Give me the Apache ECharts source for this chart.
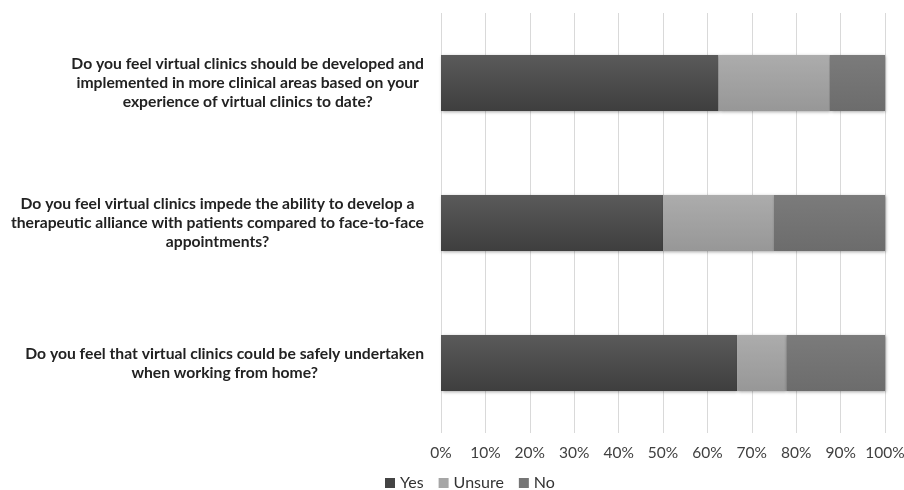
<!DOCTYPE html>
<html>
<head>
<meta charset="utf-8">
<script src="https://cdn.jsdelivr.net/npm/echarts@6/dist/echarts.min.js"></script>
<style>html,body{margin:0;padding:0;background:#fff;}#c{width:904px;height:490px;}</style>
</head>
<body>
<div id="c"></div>
<script>
const categories = [
  ["Do you feel virtual clinics should be developed and", "implemented in more clinical areas based on your", "experience of virtual clinics to date?"],
  ["Do you feel virtual clinics impede the ability to develop a", "therapeutic alliance with patients compared to face-to-face", "appointments?"],
  ["Do you feel that virtual clinics could be safely undertaken", "when working from home?"]
];
const yesValues = [62.5, 50, 66.7];
const unsureValues = [25, 25, 11.1];
const noValues = [12.5, 25, 22.2];
const tickValues = [0, 10, 20, 30, 40, 50, 60, 70, 80, 90, 100];

function grad(top, bottom) {
  return new echarts.graphic.LinearGradient(0, 0, 0, 1, [{offset: 0, color: top}, {offset: 1, color: bottom}]);
}
const shadow = {shadowBlur: 3, shadowColor: 'rgba(0,0,0,0.35)', shadowOffsetY: 1, shadowOffsetX: 1};

const chart = echarts.init(document.getElementById('c'), null, {renderer: 'canvas'});
chart.setOption({
  animation: false,
  textStyle: {fontFamily: 'Lato'},
  grid: {left: 441, right: 19, top: 13, bottom: 57, containLabel: false, outerBoundsMode: 'none'},
  legend: {
    top: 470, left: 380, itemWidth: 10, itemHeight: 10, itemGap: 15,
    icon: 'rect',
    textStyle: {fontSize: 16, color: '#333', fontFamily: 'Lato'},
    data: [
      {name: 'Yes', itemStyle: {color: '#444'}},
      {name: 'Unsure', itemStyle: {color: '#a6a6a6'}},
      {name: 'No', itemStyle: {color: '#757575'}}
    ]
  },
  xAxis: {
    type: 'value', min: 0, max: 100, interval: 10,
    axisLine: {show: false}, axisTick: {show: false},
    splitLine: {show: true, lineStyle: {color: '#d9d9d9', width: 1}},
    axisLabel: {
      formatter: v => tickValues.includes(v) ? v + '%' : '',
      fontSize: 15.5, color: '#404040', margin: 12, fontFamily: 'Lato'
    }
  },
  yAxis: {
    type: 'category', inverse: true,
    data: categories.map((c, i) => 'q' + i),
    axisLine: {show: false}, axisTick: {show: false},
    axisLabel: {
      margin: 17, align: 'right',
      formatter: (v, i) => categories[i].map(l => '{c|' + l + '}').join('\n'),
      rich: {c: {align: 'center', fontSize: 15.7, fontWeight: 'bold', color: '#222', fontFamily: 'Lato', lineHeight: 19}}
    }
  },
  series: [
    {name: 'Yes', type: 'bar', stack: 's', barWidth: 56, data: yesValues,
     itemStyle: Object.assign({color: grad('#5a5a5a', '#3e3e3e')}, shadow)},
    {name: 'Unsure', type: 'bar', stack: 's', barWidth: 56, data: unsureValues,
     itemStyle: Object.assign({color: grad('#acacac', '#979797')}, shadow)},
    {name: 'No', type: 'bar', stack: 's', barWidth: 56, data: noValues,
     itemStyle: Object.assign({color: grad('#7b7b7b', '#6c6c6c')}, shadow)}
  ]
});
</script>
</body>
</html>
